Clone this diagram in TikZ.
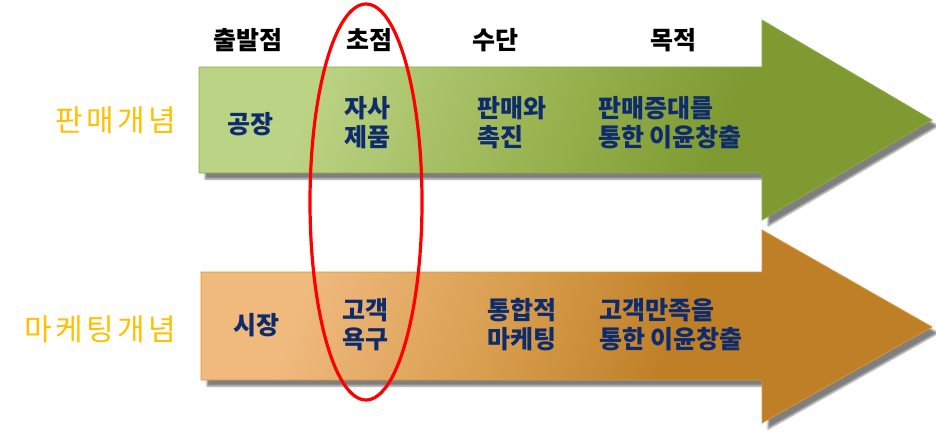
\documentclass[tikz,border=0pt]{standalone}
\usepackage{fontspec}
\usetikzlibrary{shadows.blur}
\newfontfamily\kr{Noto Sans CJK KR}
\newfontfamily\krsp[LetterSpace=11]{Noto Sans CJK KR}
\definecolor{gl}{HTML}{BBD384}
\definecolor{gm}{HTML}{98B24F}
\definecolor{gd}{HTML}{7E9A31}
\definecolor{gb}{HTML}{8FA94A}
\definecolor{ol}{HTML}{F0B97E}
\definecolor{om}{HTML}{D69B4A}
\definecolor{od}{HTML}{BF7F27}
\definecolor{ob}{HTML}{D8953A}
\definecolor{navy}{HTML}{0E2B6B}
\definecolor{gold}{HTML}{FFC000}
\pgfdeclarehorizontalshading{greenshade}{100bp}{color(0bp)=(gl); color(29bp)=(gl); color(49bp)=(gm); color(63bp)=(gd); color(100bp)=(gd)}
\pgfdeclarehorizontalshading{orangeshade}{100bp}{color(0bp)=(ol); color(28bp)=(ol); color(46bp)=(om); color(59bp)=(od); color(100bp)=(od)}
\begin{document}
\begin{tikzpicture}[x=1pt,y=-1pt,
  shadowed/.style={blur shadow={shadow xshift=6pt,shadow yshift=-6pt,shadow blur steps=6,shadow opacity=50}},
  arrowgreen/.style={shadowed,draw=gb,line width=0.8pt,shade,shading=greenshade,shading angle=-20},
  arroworange/.style={shadowed,draw=ob,line width=0.8pt,shade,shading=orangeshade,shading angle=-20},
  header/.style={font=\kr\bfseries\fontsize{25}{29}\selectfont,text=black,inner sep=0pt},
  body/.style={font=\kr\bfseries\fontsize{25}{29}\selectfont,text=navy,inner sep=0pt},
  concept/.style={font=\krsp\fontsize{30}{33}\selectfont,text=gold,inner sep=0pt,anchor=east},
  focus/.style={draw=red,line width=3.2pt}
]
\useasboundingbox (0,0) rectangle (936,438);
% arrows
\path[arrowgreen] (199,67) -- (762,67) -- (762,20) -- (932,120) -- (762,220) -- (762,173) -- (199,173) -- cycle;
\path[arroworange] (201,272) -- (762,272) -- (762,230) -- (932,327) -- (762,423) -- (762,380) -- (201,380) -- cycle;
% headers
\node[header] (h1) at (248,40) {출발점};
\node[header] (h2) at (369,40) {초점};
\node[header] (h3) at (495,40) {수단};
\node[header] (h4) at (673,40) {목적};
% concept labels
\node[concept] (c1) at (176,120) {판매개념};
\node[concept] (c2) at (176,329) {마케팅개념};
% green texts
\node[body] (g1) at (250,124) {공장};
\node[body,align=center] (g2) at (367,122.5) {자사\\제품};
\node[body,align=left,anchor=west] (g3) at (477,122.5) {판매와\\촉진};
\node[body,align=left,anchor=west] (g4) at (598,122.5) {판매증대를\\통한 이윤창출};
% orange texts
\node[body] (o1) at (256,325) {시장};
\node[body,align=center] (o2) at (365,325) {고객\\욕구};
\node[body,align=left,anchor=west] (o3) at (487,325) {통합적\\마케팅};
\node[body,align=left,anchor=west] (o4) at (599,325) {고객만족을\\통한 이윤창출};
% focus ellipse
\draw[focus] (366,202) ellipse [x radius=56, y radius=198];
\end{tikzpicture}
\end{document}
